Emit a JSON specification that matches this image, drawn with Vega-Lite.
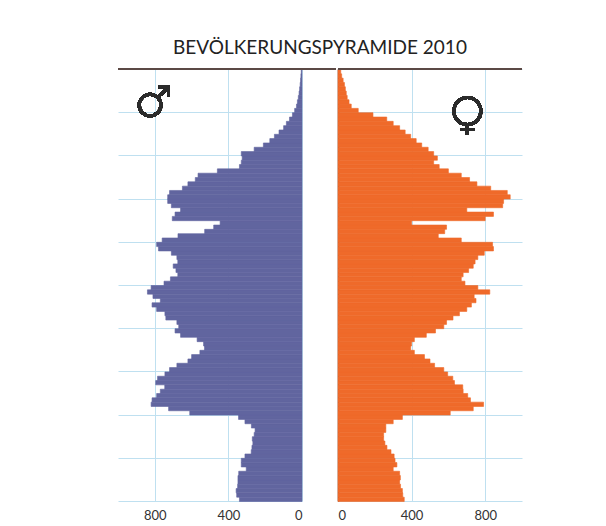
{
  "$schema": "https://vega.github.io/schema/vega-lite/v6.json",
  "background": "white",
  "padding": {"left": 117, "top": 39, "right": 5, "bottom": 5},
  "title": {"text": "BEVÖLKERUNGSPYRAMIDE 2010", "fontSize": 19, "font": "Lato", "fontWeight": "normal", "color": "#222222", "anchor": "middle", "offset": 10},
  "data": {"values": [
    {"age":0,"m":340,"f":360},{"age":1,"m":355,"f":352},{"age":2,"m":358,"f":350},{"age":3,"m":350,"f":340},{"age":4,"m":348,"f":335},
    {"age":5,"m":348,"f":339},{"age":6,"m":344,"f":335},{"age":7,"m":303,"f":300},{"age":8,"m":330,"f":320},{"age":9,"m":330,"f":310},
    {"age":10,"m":310,"f":305},{"age":11,"m":276,"f":288},{"age":12,"m":272,"f":266},{"age":13,"m":267,"f":255},{"age":14,"m":270,"f":248},
    {"age":15,"m":260,"f":248},{"age":16,"m":255,"f":260},{"age":17,"m":275,"f":260},{"age":18,"m":310,"f":300},{"age":19,"m":345,"f":350},
    {"age":20,"m":610,"f":610},{"age":21,"m":725,"f":735},{"age":22,"m":820,"f":791},{"age":23,"m":815,"f":720},{"age":24,"m":790,"f":705},
    {"age":25,"m":770,"f":680},{"age":26,"m":746,"f":678},{"age":27,"m":795,"f":633},{"age":28,"m":785,"f":624},{"age":29,"m":745,"f":596},
    {"age":30,"m":720,"f":575},{"age":31,"m":680,"f":525},{"age":32,"m":620,"f":500},{"age":33,"m":600,"f":470},{"age":34,"m":555,"f":415},
    {"age":35,"m":530,"f":395},{"age":36,"m":535,"f":400},{"age":37,"m":570,"f":415},{"age":38,"m":660,"f":480},{"age":39,"m":690,"f":530},
    {"age":40,"m":670,"f":575},{"age":41,"m":680,"f":590},{"age":42,"m":740,"f":625},{"age":43,"m":745,"f":660},{"age":44,"m":790,"f":700},
    {"age":45,"m":815,"f":725},{"age":46,"m":770,"f":750},{"age":47,"m":810,"f":740},{"age":48,"m":840,"f":825},{"age":49,"m":820,"f":760},
    {"age":50,"m":750,"f":690},{"age":51,"m":715,"f":670},{"age":52,"m":675,"f":680},{"age":53,"m":685,"f":710},{"age":54,"m":700,"f":735},
    {"age":55,"m":675,"f":745},{"age":56,"m":680,"f":760},{"age":57,"m":710,"f":795},{"age":58,"m":780,"f":845},{"age":59,"m":790,"f":840},
    {"age":60,"m":760,"f":670},{"age":61,"m":674,"f":545},{"age":62,"m":529,"f":580},{"age":63,"m":480,"f":590},{"age":64,"m":445,"f":400},
    {"age":65,"m":705,"f":800},{"age":66,"m":690,"f":845},{"age":67,"m":660,"f":700},{"age":68,"m":710,"f":895},{"age":69,"m":730,"f":900},
    {"age":70,"m":730,"f":936},{"age":71,"m":720,"f":920},{"age":72,"m":650,"f":830},{"age":73,"m":620,"f":755},{"age":74,"m":580,"f":715},
    {"age":75,"m":565,"f":670},{"age":76,"m":460,"f":600},{"age":77,"m":340,"f":550},{"age":78,"m":330,"f":520},{"age":79,"m":325,"f":540},
    {"age":80,"m":330,"f":520},{"age":81,"m":260,"f":490},{"age":82,"m":210,"f":455},{"age":83,"m":175,"f":425},{"age":84,"m":150,"f":395},
    {"age":85,"m":125,"f":365},{"age":86,"m":100,"f":335},{"age":87,"m":85,"f":300},{"age":88,"m":68,"f":265},{"age":89,"m":52,"f":190},
    {"age":90,"m":40,"f":110},{"age":91,"m":30,"f":72},{"age":92,"m":25,"f":60},{"age":93,"m":20,"f":50},{"age":94,"m":16,"f":45},
    {"age":95,"m":13,"f":40},{"age":96,"m":10,"f":35},{"age":97,"m":8,"f":28},{"age":98,"m":6,"f":20},{"age":99,"m":4,"f":15}
  ]},
  "spacing": 0,
  "hconcat": [
    {
      "width": 184,
      "height": 432,
      "layer": [
        {
          "mark": {"type": "bar", "color": "#61659f", "stroke": "#61659f", "strokeWidth": 0.6, "binSpacing": 0},
          "encoding": {
            "y": {"field": "age", "type": "quantitative", "bin": {"binned": true, "step": 1},
                  "scale": {"domain": [0, 100], "nice": false},
                  "axis": {"values": [0,10,20,30,40,50,60,70,80,90,100], "grid": true, "gridColor": "#bfe0f0", "labels": false, "ticks": false, "domain": false, "title": null}},
            "x": {"field": "m", "type": "quantitative",
                  "scale": {"domain": [0, 1000], "reverse": true, "nice": false},
                  "axis": {"values": [0,200,400,600,800,1000], "labelExpr": "datum.value % 400 == 0 ? datum.label : ''", "grid": true, "gridColor": "#bfe0f0", "domain": false, "ticks": false, "title": null, "labelFontSize": 13, "labelColor": "#333333", "labelFont": "Lato", "labelPadding": 8}}
          }
        },
        {
          "mark": {"type": "rule", "color": "#5b4a46", "strokeWidth": 1.5},
          "encoding": {"x": {"datum": 1000}, "x2": {"datum": -182}, "y": {"datum": 100}}
        },
        {
          "mark": {"type": "point", "shape": "M -1 0.28 A 0.72 0.72 0 1 0 0.44 0.28 A 0.72 0.72 0 1 0 -1 0.28 Z M 0.23 -0.23 L 0.95 -0.95 M 0.3 -0.95 L 0.95 -0.95 L 0.95 -0.3", "size": 900, "filled": false, "stroke": "#2b2b2b", "strokeWidth": 3, "opacity": 1},
          "encoding": {"x": {"datum": 803}, "y": {"datum": 92.6}}
        }
      ]
    },
    {
      "width": 184,
      "height": 432,
      "layer": [
        {
          "mark": {"type": "bar", "color": "#ef6a2a", "stroke": "#ef6a2a", "strokeWidth": 0.6, "binSpacing": 0},
          "encoding": {
            "y": {"field": "age", "type": "quantitative", "bin": {"binned": true, "step": 1},
                  "scale": {"domain": [0, 100], "nice": false},
                  "axis": {"values": [0,10,20,30,40,50,60,70,80,90,100], "grid": true, "gridColor": "#bfe0f0", "labels": false, "ticks": false, "domain": true, "domainColor": "#3b2d28", "domainWidth": 1.5, "title": null}},
            "x": {"field": "f", "type": "quantitative",
                  "scale": {"domain": [0, 1000], "nice": false},
                  "axis": {"values": [0,200,400,600,800,1000], "labelExpr": "datum.value % 400 == 0 ? datum.label : ''", "grid": true, "gridColor": "#bfe0f0", "domain": false, "ticks": false, "title": null, "labelFontSize": 13, "labelColor": "#333333", "labelFont": "Lato", "labelPadding": 8}}
          }
        },
        {
          "mark": {"type": "rule", "color": "#5b4a46", "strokeWidth": 1.5},
          "encoding": {"x": {"datum": 0}, "x2": {"datum": 1000}, "y": {"datum": 100}}
        },
        {
          "mark": {"type": "point", "shape": "M -0.73 -0.27 A 0.73 0.73 0 1 0 0.73 -0.27 A 0.73 0.73 0 1 0 -0.73 -0.27 Z M 0 0.46 L 0 1 M -0.38 0.72 L 0.38 0.72", "size": 1369, "filled": false, "stroke": "#2b2b2b", "strokeWidth": 3, "opacity": 1},
          "encoding": {"x": {"datum": 703}, "y": {"datum": 89.1}}
        }
      ]
    }
  ],
  "config": {"view": {"stroke": null}}
}
